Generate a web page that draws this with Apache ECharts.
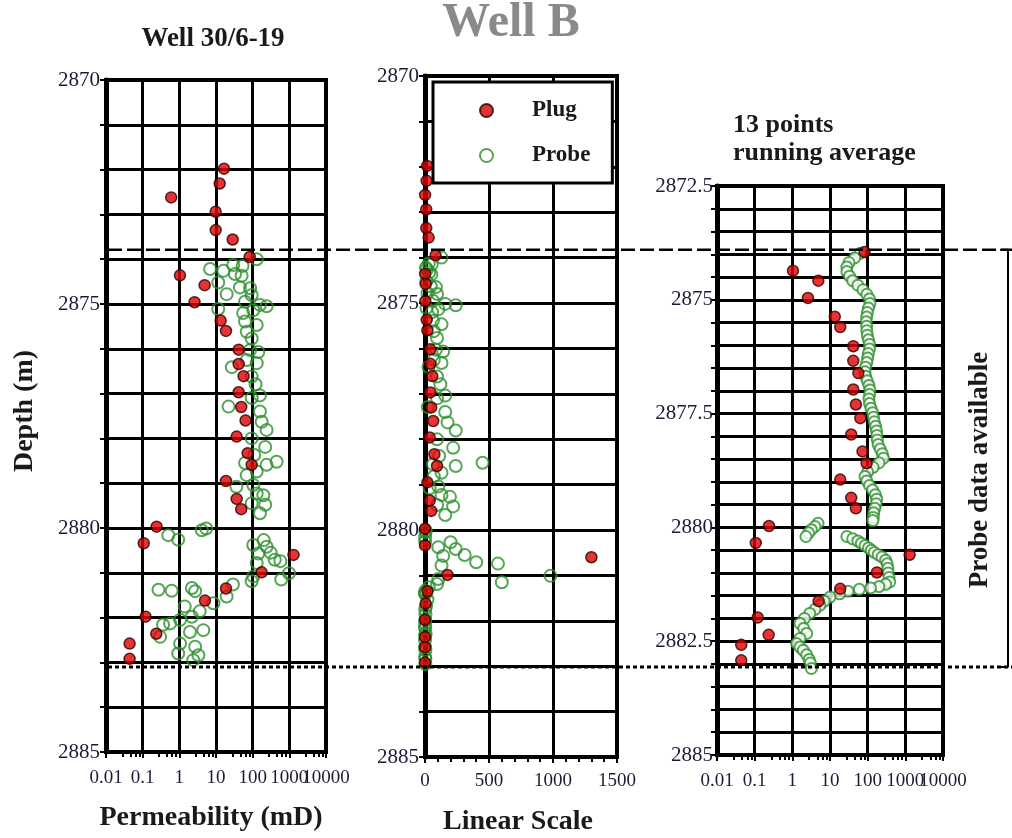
<!DOCTYPE html>
<html>
<head>
<meta charset="utf-8">
<script src="https://cdn.jsdelivr.net/npm/echarts@6/dist/echarts.min.js"></script>
<style>
html,body{margin:0;padding:0;background:#fff;}
#chart{width:1012px;height:838px;}
</style>
</head>
<body>
<div id="chart"></div>
<script>
// ---------- data ----------
const plugDepth = [2871.98, 2872.31, 2872.62, 2872.94, 2873.35, 2873.56, 2873.95, 2874.36, 2874.58, 2874.96,
  2875.37, 2875.60, 2876.02, 2876.34, 2876.61, 2876.97, 2877.30, 2877.60, 2877.96, 2878.33,
  2878.59, 2878.95, 2879.35, 2879.58, 2879.97, 2880.34, 2880.60, 2880.99, 2881.35, 2881.62,
  2881.98, 2882.36, 2882.58, 2882.92];
const plugPerm = [16.5, 12.6, 0.6, 9.8, 9.8, 28.5, 83, 1.04, 4.9, 2.6,
  13.4, 18.7, 41.5, 41.5, 56.6, 41.5, 48.7, 64, 36.6, 73,
  94, 18.7, 36.6, 48.7, 0.24, 0.107, 1300, 176, 18.7, 5.0,
  0.12, 0.235, 0.044, 0.044];

const probeDepth = [2874.00, 2874.13, 2874.15, 2874.22, 2874.26, 2874.33, 2874.37, 2874.52, 2874.63, 2874.65,
  2874.78, 2874.80, 2874.95, 2875.02, 2875.05, 2875.11, 2875.14, 2875.20, 2875.39, 2875.47,
  2875.62, 2875.77, 2876.03, 2876.07, 2876.25, 2876.32, 2876.41, 2876.62, 2876.79, 2877.04,
  2877.10, 2877.29, 2877.40, 2877.63, 2877.81, 2878.00, 2878.19, 2878.37, 2878.55, 2878.52,
  2878.59, 2878.74, 2878.82, 2879.04, 2879.08, 2879.23, 2879.27, 2879.45, 2879.48, 2879.67,
  2880.01, 2880.05, 2880.16, 2880.26, 2880.27, 2880.38, 2880.42, 2880.55, 2880.57, 2880.71,
  2880.74, 2880.78, 2881.01, 2881.08, 2881.15, 2881.19, 2881.26, 2881.34, 2881.38, 2881.40,
  2881.41, 2881.53, 2881.68, 2881.75, 2881.86, 2881.98, 2882.05, 2882.13, 2882.16, 2882.28,
  2882.32, 2882.43, 2882.58, 2882.65, 2882.80, 2882.84, 2882.95];
const probePerm = [129, 29.5, 53, 6.9, 15.9, 33, 50, 11.5, 45, 85,
  19.5, 94, 62, 158, 240, 11.5, 104, 55, 62, 129,
  69, 94, 85, 142, 69, 129, 27, 94, 120, 158,
  94, 22, 158, 176, 240, 94, 220, 110, 62, 450,
  240, 129, 69, 104, 36, 129, 195, 94, 220, 158,
  5.4, 4.1, 0.50, 0.93, 200, 104, 240, 310, 142, 400,
  570, 129, 980, 104, 600, 94, 29, 2.2, 0.27, 0.62,
  2.7, 19.5, 8.5, 1.4, 3.6, 2.2, 1.05, 0.56, 0.36, 4.5,
  1.95, 0.30, 1.05, 2.7, 0.93, 3.3, 2.4];

// 13 points running average of the probe data
const avgDepth = [2873.98, 2874.08, 2874.18, 2874.28, 2874.38, 2874.48, 2874.58, 2874.68, 2874.78, 2874.88,
  2874.98, 2875.08, 2875.18, 2875.28, 2875.38, 2875.48, 2875.58, 2875.68, 2875.78, 2875.88,
  2875.98, 2876.08, 2876.18, 2876.28, 2876.38, 2876.48, 2876.58, 2876.68, 2876.78, 2876.88,
  2876.98, 2877.08, 2877.18, 2877.28, 2877.38, 2877.48, 2877.58, 2877.68, 2877.78, 2877.88,
  2877.98, 2878.08, 2878.18, 2878.28, 2878.38, 2878.48, 2878.58, 2878.68, 2878.78, 2878.88,
  2878.98, 2879.08, 2879.18, 2879.28, 2879.38, 2879.48, 2879.58, 2879.68, 2879.78, 2879.85,
  2879.91, 2879.98, 2880.05, 2880.12, 2880.20,
  2880.20, 2880.25, 2880.30, 2880.35, 2880.40, 2880.45, 2880.50, 2880.55, 2880.60, 2880.65,
  2880.72, 2880.80, 2880.90, 2881.00, 2881.10, 2881.20, 2881.25, 2881.30, 2881.33, 2881.36,
  2881.40, 2881.46, 2881.53, 2881.62, 2881.71, 2881.80, 2881.89, 2882.00, 2882.11, 2882.22,
  2882.33, 2882.44, 2882.55, 2882.63, 2882.70, 2882.80, 2882.90, 2882.98, 2883.10];
const avgPerm = [63, 45, 32, 28, 28, 33, 40, 55, 75, 95,
  112, 115, 105, 98, 94, 92, 94, 95, 98, 105,
  112, 112, 104, 100, 95, 88, 85, 88, 98, 108,
  115, 112, 108, 112, 122, 135, 142, 150, 162, 172,
  176, 180, 190, 215, 245, 262, 200, 140, 100, 85,
  95, 112, 135, 160, 174, 168, 155, 145, 141, 138,
  4.8, 4.0, 3.2, 2.7, 2.3,
  28, 40, 55, 68, 85, 105, 125, 150, 190, 240,
  300, 330, 345, 352, 370, 385, 300, 200, 120, 60,
  30, 18, 10, 7, 5.4, 4, 2.9, 2.1, 1.6, 2.0,
  2.4, 1.6, 1.3, 1.6, 1.95, 2.4, 2.8, 3.0, 3.2];

const logTickLabels = ['0.01', '0.1', '1', '10', '100', '1000', '10000'];
const linTickLabels = ['0', '500', '1000', '1500'];
const depthLabelsA = ['2870', '2875', '2880', '2885'];
const depthLabelsB = ['2872.5', '2875', '2877.5', '2880', '2882.5', '2885'];
const probeTop = 2873.79;
const probeBottom = 2883.10;

// ---------- chart ----------
const FONT = 'Liberation Serif';
const LBL = '#1b1b38';
const RED = '#e00000';
const GREEN = '#2d8f2d';

const zip = (xs, ys) => xs.map((x, i) => [x, ys[i]]);
const plugData = zip(plugPerm, plugDepth);
const probeData = zip(probePerm, probeDepth);
const avgData = zip(avgPerm, avgDepth);
const plugRight = plugData.filter(p => p[1] > probeTop);

const lastLog = logTickLabels.length - 1;
function logIndex(v) { return Math.round(Math.log10(v)) + 2; }
// main log axis shows all labels but the last; a twin axis shows only the last one
function logFmtMain(v) { const k = logIndex(v); return (k >= 0 && k < lastLog) ? logTickLabels[k] : ''; }
function logFmtLast(v) { const k = logIndex(v); return k === lastLog ? logTickLabels[k] : ''; }
function depthFmt(list) {
  return v => { const s = String(+(+v).toFixed(1)); return list.includes(s) ? s : ''; };
}

const gridBase = { show: true, borderColor: '#000', borderWidth: 4, backgroundColor: '#fff', containLabel: false, outerBoundsMode: 'none' };
const labelBase = { show: true, color: LBL, fontFamily: FONT, fontSize: 19, hideOverlap: false, showMinLabel: true, showMaxLabel: true };

function logX(gi, margin) {
  return {
    type: 'log', logBase: 10, gridIndex: gi, min: 0.01, max: 10000, position: 'bottom',
    axisLine: { show: true, lineStyle: { color: '#000', width: 4 } },
    axisTick: { show: true, inside: false, length: 6, lineStyle: { color: '#000', width: 2 } },
    minorTick: { show: true, splitNumber: 5, length: 5, lineStyle: { color: '#000', width: 2 } },
    axisLabel: Object.assign({ formatter: logFmtMain, margin: margin }, labelBase),
    splitLine: { show: true, lineStyle: { color: '#000', width: 3 } }
  };
}
function logXTwin(gi, margin) {
  return {
    type: 'log', logBase: 10, gridIndex: gi, min: 0.01, max: 10000, position: 'bottom', offset: 0,
    axisLine: { show: false }, axisTick: { show: false }, splitLine: { show: false },
    axisLabel: Object.assign({ formatter: logFmtLast, margin: margin }, labelBase)
  };
}
function depthY(gi, min, max, interval, list, margin) {
  return {
    type: 'value', gridIndex: gi, inverse: true, min: min, max: max, interval: interval,
    axisLine: { show: true, lineStyle: { color: '#000', width: 5 } },
    axisTick: { show: true, inside: false, length: 6, lineStyle: { color: '#000', width: 2 } },
    axisLabel: { show: true, formatter: depthFmt(list), margin: margin, color: LBL, fontFamily: FONT, fontSize: 21, showMinLabel: true, showMaxLabel: true },
    splitLine: { show: true, lineStyle: { color: '#000', width: 3 } }
  };
}

const probeStyle = { color: 'rgba(255,255,255,0)', borderColor: GREEN, borderWidth: 2 };
const avgStyle = { color: '#fff', borderColor: GREEN, borderWidth: 2 };
const plugStyle = { color: RED, borderColor: '#2a0000', borderWidth: 1.5 };

const option = {
  animation: false,
  backgroundColor: '#fff',
  textStyle: { fontFamily: FONT },
  grid: [
    Object.assign({ left: 106, top: 80, width: 220, height: 672 }, gridBase),
    Object.assign({ left: 425, top: 76, width: 192, height: 681 }, gridBase),
    Object.assign({ left: 717, top: 186, width: 226, height: 569 }, gridBase),
    { left: 108, top: 80, width: 904, height: 672, show: false, containLabel: false, outerBoundsMode: 'none' },
    { left: 1000, top: 80, width: 8, height: 672, show: false, containLabel: false, outerBoundsMode: 'none' }
  ],
  xAxis: [
    logX(0, 17),
    {
      type: 'value', gridIndex: 1, min: 0, max: 1500, interval: 500,
      axisLine: { show: true, lineStyle: { color: '#000', width: 4 } },
      axisTick: { show: true, inside: false, length: 6, lineStyle: { color: '#000', width: 2 } },
      minorTick: { show: true, splitNumber: 5, length: 5, lineStyle: { color: '#000', width: 2 } },
      axisLabel: Object.assign({ formatter: v => linTickLabels[Math.round(v / 500)] || '', margin: 15 }, labelBase),
      splitLine: { show: true, lineStyle: { color: '#000', width: 3 } }
    },
    logX(2, 17),
    { type: 'value', gridIndex: 3, min: 0, max: 1, show: false },
    { type: 'value', gridIndex: 4, min: 0, max: 1, show: false },
    logXTwin(0, 17),
    logXTwin(2, 17)
  ],
  yAxis: [
    depthY(0, 2870, 2885, 1, depthLabelsA, 6),
    depthY(1, 2870, 2885, 1, depthLabelsA, 6),
    depthY(2, 2872.5, 2885, 0.5, depthLabelsB, 4),
    { type: 'value', gridIndex: 3, inverse: true, min: 2870, max: 2885, show: false },
    { type: 'value', gridIndex: 4, inverse: true, min: 2870, max: 2885, show: false }
  ],
  legend: {
    data: ['Plug', 'Probe'],
    orient: 'vertical', left: 433, top: 82,
    padding: [17, 22, 16, 46],
    itemGap: 22, itemWidth: 13, itemHeight: 13,
    backgroundColor: '#fff', borderColor: '#000', borderWidth: 3, borderRadius: 0,
    selectedMode: false,
    textStyle: { fontFamily: FONT, fontSize: 23, fontWeight: 'bold', color: '#1a1a1a', padding: [0, 0, 0, 34] }
  },
  series: [
    { name: 'Probe', type: 'scatter', xAxisIndex: 0, yAxisIndex: 0, data: probeData, symbolSize: 12, itemStyle: probeStyle, z: 3 },
    { name: 'Plug', type: 'scatter', xAxisIndex: 0, yAxisIndex: 0, data: plugData, symbolSize: 11, itemStyle: plugStyle, z: 4 },
    { name: 'Probe', type: 'scatter', xAxisIndex: 1, yAxisIndex: 1, data: probeData, symbolSize: 12, itemStyle: probeStyle, z: 3 },
    { name: 'Plug', type: 'scatter', xAxisIndex: 1, yAxisIndex: 1, data: plugData, symbolSize: 11, itemStyle: plugStyle, z: 4 },
    { name: 'Probe', type: 'scatter', xAxisIndex: 2, yAxisIndex: 2, data: avgData, symbolSize: 11, itemStyle: avgStyle, z: 3 },
    { name: 'Plug', type: 'scatter', xAxisIndex: 2, yAxisIndex: 2, data: plugRight, symbolSize: 11, itemStyle: plugStyle, z: 4 },
    { type: 'line', xAxisIndex: 3, yAxisIndex: 3, data: [[0, probeTop], [1, probeTop]], symbol: 'none', silent: true, z: 6,
      lineStyle: { color: '#000', width: 2.5, type: [14, 5] } },
    { type: 'line', xAxisIndex: 3, yAxisIndex: 3, data: [[0, probeBottom], [1, probeBottom]], symbol: 'none', silent: true, z: 6,
      lineStyle: { color: '#000', width: 3, type: [4, 3] } },
    { type: 'line', xAxisIndex: 4, yAxisIndex: 4, data: [[0, probeTop], [1, probeTop], [1, probeBottom], [0, probeBottom]], symbol: 'none', silent: true, z: 6,
      lineStyle: { color: '#000', width: 2 } }
  ],
  graphic: [
    { type: 'text', x: 511, y: 24, silent: true, style: { text: 'Well B', align: 'center', verticalAlign: 'middle', font: 'bold 48px "Liberation Serif"', fill: '#8a8a8a' } },
    { type: 'text', x: 213, y: 39, silent: true, style: { text: 'Well 30/6-19', align: 'center', verticalAlign: 'middle', font: 'bold 27px "Liberation Serif"', fill: '#1a1a1a' } },
    { type: 'text', x: 733, y: 111, silent: true, style: { text: '13 points\nrunning average', align: 'left', verticalAlign: 'top', lineHeight: 28, font: 'bold 26px "Liberation Serif"', fill: '#1a1a1a' } },
    { type: 'text', x: 25, y: 411, rotation: Math.PI / 2, silent: true, style: { text: 'Depth (m)', align: 'center', verticalAlign: 'middle', font: 'bold 28px "Liberation Serif"', fill: '#1a1a1a' } },
    { type: 'text', x: 211, y: 818, silent: true, style: { text: 'Permeability (mD)', align: 'center', verticalAlign: 'middle', font: 'bold 28px "Liberation Serif"', fill: '#1a1a1a' } },
    { type: 'text', x: 518, y: 822, silent: true, style: { text: 'Linear Scale', align: 'center', verticalAlign: 'middle', font: 'bold 28px "Liberation Serif"', fill: '#1a1a1a' } },
    { type: 'text', x: 980, y: 470, rotation: Math.PI / 2, silent: true, style: { text: 'Probe data available', align: 'center', verticalAlign: 'middle', font: 'bold 27px "Liberation Serif"', fill: '#1a1a1a' } }
  ]
};

const chart = echarts.init(document.getElementById('chart'), null, { renderer: 'canvas' });
chart.setOption(option);
</script>
</body>
</html>
